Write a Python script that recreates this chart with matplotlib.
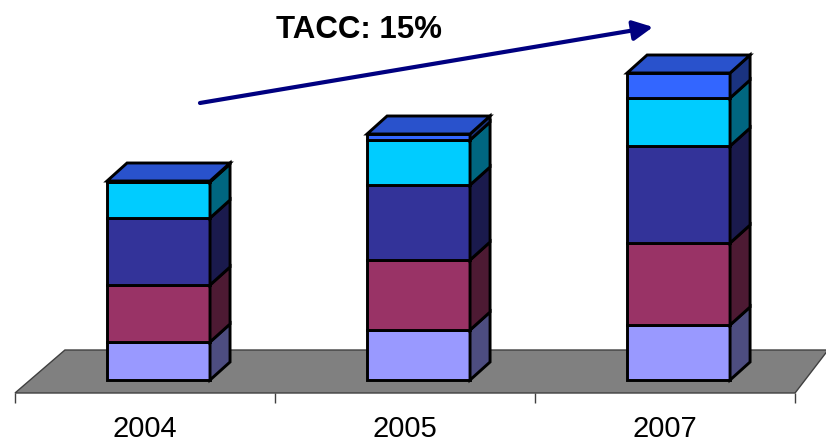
import numpy as np
import matplotlib.pyplot as plt
from matplotlib.patches import Polygon

plt.rcParams['font.family'] = ['Liberation Sans', 'DejaVu Sans']

years = ['2004', '2005', '2007']
seg_light = [19.0, 25.0, 27.5]
seg_maroon = [28.5, 35.0, 41.0]
seg_navy = [33.5, 37.5, 48.5]
seg_cyan = [18.0, 22.5, 24.0]
seg_blue = [0.5, 3.0, 12.5]
growth_label = 'TACC: 15%'

series = [seg_light, seg_maroon, seg_navy, seg_cyan, seg_blue]
front_cols = ['#9999FF', '#993366', '#333399', '#00CCFF', '#3366FF']
side_cols = ['#4D4D80', '#4D1A33', '#1A1A4D', '#006680', '#1A3380']
top_col = '#2952CC'

# 3d look: offsets in data units
bar_w = 0.396
bar_x0 = -0.146
dep_x, dep_y = 0.077, 9.0
floor_front, floor_back = -6.5, 15.0
floor_dx_l, floor_dx_r = 0.192, 0.127

fig = plt.figure(figsize=(8.26, 4.43), dpi=100)
ax = fig.add_axes([0, 0, 1, 1])
ax.set_xlim(-0.5577, 2.619)
ax.set_ylim(-31.5, 190)
ax.axis('off')

n = len(years)
# floor
fl = [(-0.5, floor_front), (n - 0.5, floor_front),
      (n - 0.5 + floor_dx_r, floor_back), (-0.5 + floor_dx_l, floor_back)]
ax.add_patch(Polygon(fl, closed=True, facecolor='#808080', edgecolor='#404040', lw=1.0, zorder=1))
ax.vlines(np.arange(n + 1) - 0.5, floor_front - 5, floor_front, color='#404040', lw=1.0, zorder=1)

for i in range(n):
    x0 = i + bar_x0
    x1 = x0 + bar_w
    bottom = 0.0
    for k, s in enumerate(series):
        top = bottom + s[i]
        front = [(x0, bottom), (x1, bottom), (x1, top), (x0, top)]
        side = [(x1, bottom), (x1 + dep_x, bottom + dep_y), (x1 + dep_x, top + dep_y), (x1, top)]
        ax.add_patch(Polygon(front, closed=True, facecolor=front_cols[k], edgecolor='black', lw=2.1,
                             joinstyle='miter', zorder=3 + k))
        ax.add_patch(Polygon(side, closed=True, facecolor=side_cols[k], edgecolor='black', lw=2.1,
                             joinstyle='miter', zorder=3 + k))
        bottom = top
    lid = [(x0, bottom), (x1, bottom), (x1 + dep_x, bottom + dep_y), (x0 + dep_x, bottom + dep_y)]
    ax.add_patch(Polygon(lid, closed=True, facecolor=top_col, edgecolor='black', lw=2.1,
                         joinstyle='miter', zorder=10))
    ax.text(i, -28.5, years[i], ha='center', va='baseline', fontsize=21, color='black')

ax.annotate('', xy=(0.7906, 0.939), xytext=(0.2421, 0.7675), xycoords='axes fraction',
            arrowprops=dict(arrowstyle='-|>', color='#000080', lw=3, mutation_scale=30,
                            shrinkA=0, shrinkB=0))
ax.text(0.4346, 0.9142, growth_label, transform=ax.transAxes, ha='center', va='baseline',
        fontsize=22.5, fontweight='bold', color='black')

plt.savefig('out.png', dpi=100)
